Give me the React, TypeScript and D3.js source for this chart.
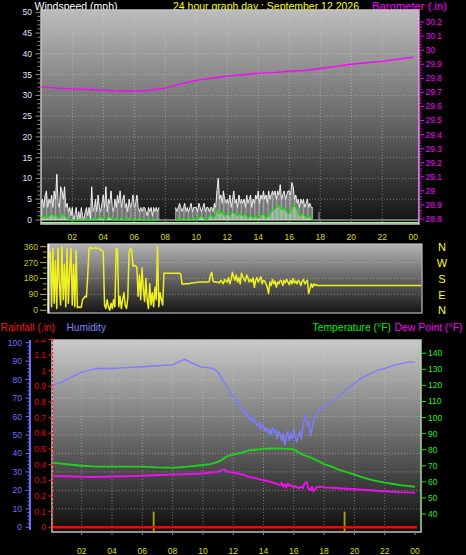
import React from "react";
import * as d3 from "d3";

const N = null;
const W = 466;
const H = 555;

// ---------- shared time axis ----------
const hourTicks = [2, 4, 6, 8, 10, 12, 14, 16, 18, 20, 22, 24];
const hourLabels = ["02", "04", "06", "08", "10", "12", "14", "16", "18", "20", "22", "00"];

// ---------- top panel: wind & barometer ----------
const windTicks = [0, 5, 10, 15, 20, 25, 30, 35, 40, 45, 50];
const baroTicks = [28.8, 28.9, 29, 29.1, 29.2, 29.3, 29.4, 29.5, 29.6, 29.7, 29.8, 29.9, 30, 30.1, 30.2];

// gust speed, one value every 5 minutes from 00:00
const gustMph: (number | null)[] = [
  4, 5, 3, 6, 7, 3, 5, 4, 6, 3, 7, 5,
  11, 4, 3, 8, 7, 5, 8, 3, 4, 2, 3, 1,
  3, 0, 1, 3, 0, 2, 0, 3, 1, 0, 2, 3,
  1, 3, 0, 8, 2, 3, 5, 2, 6, 3, 2, 4,
  6, 3, 8, 2, 5, 4, 7, 3, 2, 5, 3, 6,
  4, 7, 3, 5, 6, 3, 4, 2, 5, 3, 4, 6,
  3, 4, 6, 3, 2, 3, 2, 3, 3, 2, 1, 3,
  2, 3, 1, 3, 2, 3, 2, 3, N, N, N, N,
  N, N, N, N, N, N, N, N, 3, 2, 3, 4,
  3, 2, 3, 4, 2, 3, 2, 3, 4, 2, 3, 3,
  3, 2, 4, 3, 2, 3, 4, 2, 3, 3, 2, 3,
  3, 2, 4, 3, 7, 10, 5, 6, 4, 7, 5, 4,
  5, 4, 6, 3, 5, 7, 4, 5, 3, 6, 4, 5,
  4, 5, 3, 6, 4, 5, 6, 3, 5, 4, 6, 5,
  7, 4, 6, 5, 7, 5, 6, 4, 7, 5, 6, 7,
  6, 7, 5, 7, 6, 8.5, 5, 6, 7, 5, 6, 7,
  7, 6, 9, 8, 5, 6, 4, 5, 3, 5, 4, 5,
  3, 4, 5, 3, 4, 3, 3, N, N, N, N, 2,
];

// average speed, one value every 10 minutes from 00:00
const avgMph: (number | null)[] = [
  0.5, 1, 0.5, 1, 1.5, 1,
  1, 0.5, 1.5, 1, 0.5, 0,
  0, 0, 0, 0, 0, 0,
  0, 0, 0.5, 0, 0.5, 0.5,
  0.5, 0, 1, 0.5, 0, 0.5,
  0, 0.5, 0, 0, 0.5, 0,
  0, 0, 0.5, 0, 0, 0,
  0, 0, 0, 0, N, N,
  N, N, N, N, 0, 0,
  0, 0.5, 0, 0.5, 0, 0.5,
  0, 0.5, 1, 0.5, 0, 1,
  1, 0.5, 2.5, 1.5, 2, 1,
  1.5, 1, 2, 1.5, 1, 1.5,
  1, 1.5, 0.5, 1, 0.5, 1,
  0.5, 1, 1.5, 0.5, 1, 2,
  2.5, 3, 3.5, 2.5, 3, 2,
  1.5, 3, 3.5, 2.5, 1, 1.5,
  1, 0.5, 1, 0,
];

const baroHours = [0, 1, 2, 3, 4, 5, 6, 7, 8, 9, 10, 11, 12, 13, 14, 15, 16, 17, 18, 19, 20, 21, 22, 23, 24];
const baroInHg = [
  29.74, 29.73, 29.725, 29.72, 29.715, 29.71, 29.71, 29.715, 29.73, 29.76, 29.785, 29.8, 29.815,
  29.825, 29.835, 29.84, 29.85, 29.855, 29.87, 29.885, 29.9, 29.91, 29.92, 29.935, 29.95,
];

// ---------- middle panel: wind direction ----------
const dirTicks = [0, 90, 180, 270, 360];
const dirLetters = ["N", "E", "S", "W", "N"];
// one value every 5 minutes from 00:00
const dirDeg: number[] = [
  300, 330, 20, 350, 40, 280, 10, 350, 150, 30, 360, 60,
  260, 20, 350, 40, 220, 350, 30, 260, 20, 340, 15, 20,
  15, 20, 60, 70, 80, 75, 200, 350, 355, 350, 352, 350,
  355, 350, 352, 350, 340, 340, 330, 30, 10, 60, 20, 0,
  40, 10, 60, 20, 350, 345, 20, 80, 10, 60, 100, 30,
  10, 70, 330, 350, 340, 250, 255, 250, 245, 80, 200, 60,
  240, 120, 50, 180, 60, 10, 150, 30, 100, 20, 130, 60,
  360, 20, 100, 60, 30, 210, 210, 210, 210, 210, 210, 210,
  210, 210, 210, 210, 210, 210, 205, 150, 148, 150, 150, 152,
  150, 152, 155, 155, 155, 158, 158, 158, 160, 160, 160, 160,
  160, 160, 160, 160, 162, 200, 215, 165, 160, 162, 158, 160,
  155, 170, 160, 150, 175, 165, 160, 185, 150, 175, 215, 190,
  170, 200, 160, 185, 150, 210, 190, 175, 165, 200, 185, 160,
  175, 160, 185, 130, 170, 185, 160, 175, 190, 150, 170, 165,
  150, 130, 95, 160, 140, 175, 150, 165, 130, 160, 150, 170,
  165, 140, 170, 155, 175, 160, 145, 170, 150, 180, 155, 165,
  150, 170, 160, 140, 165, 175, 150, 160, 170, 95, 120, 150,
  130, 150, 140, 145, 140, 140, 140, 140, 140, 140, 140, 140,
  140, 140, 140, 140, 140, 140, 140, 140, 140, 140, 140, 140,
  140, 140, 140, 140, 140, 140, 140, 140, 140, 140, 140, 140,
  140, 140, 140, 140, 140, 140, 140, 140, 140, 140, 140, 140,
  140, 140, 140, 140, 140, 140, 140, 140, 140, 140, 140, 140,
  140, 140, 140, 140, 140, 140, 140, 140, 140, 140, 140, 140,
  140, 140, 140, 140, 140, 140, 140, 140, 140, 140, 140, 140,
  140,
];

// ---------- bottom panel: rain, humidity, temperature, dew point ----------
const humTicks = [0, 10, 20, 30, 40, 50, 60, 70, 80, 90, 100];
const rainTicks = [0, 0.1, 0.2, 0.3, 0.4, 0.5, 0.6, 0.7, 0.8, 0.9, 1, 1.1, 1.2];
const tempTicks = [40, 50, 60, 70, 80, 90, 100, 110, 120, 130, 140];

const humHours = [
  0, 0.5, 1, 1.5, 2, 2.5, 3, 4, 5, 6, 7, 8, 8.5, 8.8, 9.3, 9.8, 10.3, 10.7, 11, 11.3,
  11.6, 11.8, 12, 12.1, 12.2, 12.3, 12.4, 12.5, 12.6, 12.7, 12.8, 12.9, 13, 13.1, 13.2, 13.3, 13.4, 13.5,
  13.6, 13.7, 13.8, 13.9, 14, 14.1, 14.2, 14.3, 14.4, 14.5, 14.6, 14.7, 14.8, 14.9, 15, 15.1, 15.2, 15.3,
  15.4, 15.5, 15.6, 15.7, 15.8, 15.9, 16, 16.1, 16.2, 16.3, 16.4, 16.5, 16.6, 16.7, 16.8, 16.9, 17, 17.1,
  17.2, 17.3, 17.4, 17.5, 17.6, 17.7, 17.8, 17.9, 18, 18.5, 19, 19.5, 20, 20.5, 21, 21.5, 22, 22.5, 23, 23.5, 24,
];
const humPct = [
  77, 78, 80, 82, 84, 85, 86, 86, 86.5, 87, 87.5, 88, 90, 91, 89, 87, 86.5, 86, 84, 80,
  76, 73, 71, 70, 68, 69, 66, 64, 65, 62, 63, 60, 61, 58, 60, 57, 59, 56,
  55, 57, 53, 56, 55, 52, 54, 51, 53, 50, 54, 51, 53, 48, 52, 50, 47, 51,
  44.5, 49, 52, 47, 51, 48, 53, 49, 46, 50, 52, 48, 55, 59, 61, 55, 57, 50,
  53, 58, 60, 61, 62, 64, 63, 66, 66, 68, 71, 75, 78, 81, 83, 85, 86, 87.5, 88.5, 89.5, 89.5,
];

const tempHours = [0, 0.5, 1, 2, 3, 4, 5, 6, 7, 8, 9, 10, 10.5, 11, 11.3, 11.6, 12, 12.5, 13, 13.5, 14, 14.5, 15, 15.5, 16, 16.3, 16.6, 17, 17.5, 18, 18.5, 19, 19.5, 20, 20.5, 21, 21.5, 22, 22.5, 23, 23.5, 24];
const tempF = [72, 71.5, 71, 70, 69.5, 69.5, 69.5, 69.5, 69, 68.8, 69.5, 70.5, 71, 72.5, 74, 76, 77, 78, 79.5, 80, 80.5, 80.8, 80.8, 80.5, 80.3, 78.5, 77, 75.5, 73.5, 71, 69.5, 67.5, 66, 64.5, 63, 61.5, 60.5, 59.5, 58.8, 58, 57.5, 57];

const dewHours = [
  0, 1, 2, 3, 4, 5, 6, 7, 8, 9, 10, 10.5, 11, 11.4, 11.6, 11.8, 12.2, 12.7, 13.1, 13.5, 14, 14.4, 14.8,
  15.1, 15.2, 15.3, 15.4, 15.5, 15.6, 15.7, 15.8, 16, 16.1, 16.3, 16.5, 16.6, 16.7, 16.85, 16.95, 17.1,
  17.2, 17.3, 17.5, 17.7, 18, 18.5, 19, 20, 21, 22, 23, 24,
];
const dewF = [
  63.6, 63.5, 63.2, 63, 63.3, 63.5, 63.8, 64.3, 64.6, 64.8, 65.2, 65.8, 66.3, 67.8, 66.5, 66, 65.5, 64.3, 63, 62.2, 61, 60.1, 59,
  58, 59.5, 57, 58.5, 56.5, 59, 57.5, 58, 56.5, 57.5, 56, 57, 56, 59, 60, 56, 55,
  57, 54, 56.5, 57, 56.6, 56.3, 56, 55.4, 54.8, 54.2, 53.6, 53.3,
];

const rainHours = [6.75, 19.35];
const rainIn = [0.1, 0.1];

const FONT = "'Liberation Sans', Arial, sans-serif";
const GRID = { stroke: "#d8d8d8", strokeOpacity: 0.45, strokeDasharray: "1 2", strokeWidth: 1 };

function range(a: number, b: number, s: number) {
  const out: number[] = [];
  for (let v = a; v <= b + 1e-9; v += s) out.push(+v.toFixed(4));
  return out;
}

export default function App() {
  // scales
  const xTop = d3.scaleLinear().domain([0, 24]).range([41.3, 413.3]);
  const yWind = d3.scaleLinear().domain([0, 50]).range([220, 12.3]);
  const yBaro = d3.scaleLinear().domain([28.8, 30.2]).range([219, 22]);

  const xDir = d3.scaleLinear().domain([0, 24]).range([49, 421]);
  const yDir = d3.scaleLinear().domain([0, 360]).range([310.3, 246.7]);

  const xBot = d3.scaleLinear().domain([0, 24]).range([51.4, 415]);
  const yHum = d3.scaleLinear().domain([0, 100]).range([527.3, 342.7]);
  const yRain = d3.scaleLinear().domain([0, 1.2]).range([527.3, 339.4]);
  const yTemp = d3.scaleLinear().domain([40, 140]).range([514, 353.3]);

  // series
  const gustPts = gustMph.map((v, i) => ({ h: (i * 5) / 60, v }));
  const avgPts = avgMph.map((v, i) => ({ h: (i * 10) / 60, v }));
  const gustLine = d3
    .line<{ h: number; v: number | null }>()
    .defined((d) => d.v !== null)
    .x((d) => xTop(d.h))
    .y((d) => yWind(d.v as number));
  const avgArea = d3
    .area<{ h: number; v: number | null }>()
    .defined((d) => d.v !== null)
    .x((d) => xTop(d.h))
    .y0(yWind(0))
    .y1((d) => yWind(d.v as number));
  const avgLine = d3
    .line<{ h: number; v: number | null }>()
    .defined((d) => d.v !== null)
    .x((d) => xTop(d.h))
    .y((d) => yWind(d.v as number));
  const baroLine = d3
    .line<number>()
    .x((_, i) => xTop(baroHours[i]))
    .y((d) => yBaro(d));

  const dirLine = d3
    .line<number>()
    .x((_, i) => xDir((i * 5) / 60))
    .y((d) => yDir(d));

  const humLine = d3.line<number>().x((_, i) => xBot(humHours[i])).y((d) => yHum(d));
  const tempLine = d3.line<number>().x((_, i) => xBot(tempHours[i])).y((d) => yTemp(d));
  const dewLine = d3.line<number>().x((_, i) => xBot(dewHours[i])).y((d) => yTemp(d));

  const tickText = { fontSize: 8.5, fontFamily: FONT };

  return (
    <svg
      width={W}
      height={H}
      viewBox={`0 0 ${W} ${H}`}
      style={{ position: "fixed", left: 0, top: 0, background: "#000", display: "block" }}
      fontFamily={FONT}
    >
      <defs>
        <linearGradient id="gTop" x1="0" y1="0" x2="0" y2="1">
          <stop offset="0" stopColor="#bcbcbc" />
          <stop offset="0.5" stopColor="#6a6a6a" />
          <stop offset="1" stopColor="#121212" />
        </linearGradient>
        <linearGradient id="gDir" x1="0" y1="0" x2="0" y2="1">
          <stop offset="0" stopColor="#b4b4b4" />
          <stop offset="1" stopColor="#151515" />
        </linearGradient>
        <linearGradient id="gBot" x1="0" y1="0" x2="0" y2="1">
          <stop offset="0" stopColor="#cacaca" />
          <stop offset="0.5" stopColor="#6c6c6c" />
          <stop offset="1" stopColor="#0c0c0c" />
        </linearGradient>
        <clipPath id="cTop">
          <rect x={41} y={10} width={378} height={214} />
        </clipPath>
        <clipPath id="cDir">
          <rect x={48} y={244} width={374} height={69} />
        </clipPath>
        <clipPath id="cBot">
          <rect x={52} y={340} width={369} height={192} />
        </clipPath>
        <clipPath id="cRainLbl">
          <rect x={0} y={339.5} width={52} height={200} />
        </clipPath>
      </defs>
      <rect x={0} y={0} width={W} height={H} fill="#000" />

      {/* ================= TOP PANEL ================= */}
      <text x={34.5} y={10} fill="#ffffff" fontSize={11} textLength={83} lengthAdjust="spacingAndGlyphs">
        Windspeed (mph)
      </text>
      <text x={173} y={10} fill="#ffff00" fontSize={11} textLength={186} lengthAdjust="spacingAndGlyphs">
        24 hour graph day : September 12 2026
      </text>
      <text x={372} y={10} fill="#ff00ff" fontSize={11} textLength={75} lengthAdjust="spacingAndGlyphs">
        Barometer (.in)
      </text>

      <rect x={41} y={10} width={378} height={214} fill="url(#gTop)" stroke="#c4c4c4" strokeWidth={1.5} />
      <g>
        {windTicks.slice(1, -1).map((t) => (
          <line key={"wg" + t} x1={42} x2={418} y1={yWind(t)} y2={yWind(t)} {...GRID} />
        ))}
        {hourTicks.slice(0, -1).map((h) => (
          <line key={"wv" + h} x1={xTop(h)} x2={xTop(h)} y1={11} y2={223} {...GRID} />
        ))}
      </g>
      <g clipPath="url(#cTop)">
        <line x1={41} x2={419} y1={yWind(0)} y2={yWind(0)} stroke="#d0d0d0" strokeWidth={1.2} />
        <line x1={41} x2={419} y1={222.8} y2={222.8} stroke="#a8f0a8" strokeWidth={1.6} />
        {gustPts.map((d, i) =>
          d.v === null ? null : (
            <rect
              key={"gb" + i}
              x={xTop(d.h) - 0.5}
              y={yWind(d.v)}
              width={1}
              height={yWind(0) - yWind(d.v)}
              fill="#ffffff"
              fillOpacity={0.6}
            />
          )
        )}
        <path d={avgArea(avgPts) || ""} fill="#b8f5b8" fillOpacity={0.45} />
        <path d={gustLine(gustPts) || ""} fill="none" stroke="#f8f8f8" strokeWidth={0.9} />
        <path d={avgLine(avgPts) || ""} fill="none" stroke="#19d419" strokeWidth={1.3} />
        <path d={baroLine(baroInHg) || ""} fill="none" stroke="#ff00ff" strokeWidth={1.4} />
      </g>

      {/* wind axis */}
      {range(0, 50, 1).map((t) => (
        <line
          key={"wt" + t}
          x1={t % 5 === 0 ? 35.5 : 37.5}
          x2={40.5}
          y1={yWind(t)}
          y2={yWind(t)}
          stroke="#8c8c8c"
          strokeWidth={1}
        />
      ))}
      {windTicks.map((t) => (
        <text key={"wl" + t} x={32} y={yWind(t)} dy="0.35em" textAnchor="end" fill="#dfe6ff" {...tickText}>
          {t}
        </text>
      ))}

      {/* barometer axis */}
      <line x1={419.5} x2={419.5} y1={10} y2={224} stroke="#ff00ff" strokeWidth={1} strokeDasharray="1 1" />
      {range(28.8, 30.2, 0.02).map((t, i) => (
        <line
          key={"bt" + t}
          x1={419.5}
          x2={i % 5 === 0 ? 424 : 421.5}
          y1={yBaro(t)}
          y2={yBaro(t)}
          stroke="#ff00ff"
          strokeWidth={1}
        />
      ))}
      {baroTicks.map((t) => (
        <text key={"bl" + t} x={425.5} y={yBaro(t)} dy="0.35em" fill="#ff00ff" {...tickText}>
          {String(t)}
        </text>
      ))}

      {hourTicks.map((h, i) => (
        <text key={"xt" + h} x={xTop(h)} y={240} textAnchor="middle" fill="#dede00" {...tickText}>
          {hourLabels[i]}
        </text>
      ))}

      {/* ================= DIRECTION PANEL ================= */}
      <rect x={48} y={244} width={374} height={69} fill="url(#gDir)" stroke="#bdbdbd" strokeWidth={1.2} />
      <line x1={48.5} x2={48.5} y1={244} y2={313} stroke="#eeeeee" strokeWidth={2} />
      {dirTicks.slice(1, -1).map((t) => (
        <line key={"dg" + t} x1={49} x2={421} y1={yDir(t)} y2={yDir(t)} {...GRID} />
      ))}
      <g clipPath="url(#cDir)">
        <path d={dirLine(dirDeg) || ""} fill="none" stroke="#f0f020" strokeWidth={1.5} strokeLinejoin="round" />
      </g>
      {range(0, 360, 30).map((t) => (
        <line
          key={"dt" + t}
          x1={t % 90 === 0 ? 40 : 43}
          x2={46.5}
          y1={yDir(t)}
          y2={yDir(t)}
          stroke="#b8b800"
          strokeWidth={1}
        />
      ))}
      {dirTicks.map((t) => (
        <text key={"dl" + t} x={38} y={yDir(t)} dy="0.35em" textAnchor="end" fill="#cccc00" {...tickText}>
          {t}
        </text>
      ))}
      {dirTicks.map((t, i) => (
        <text key={"dn" + t} x={442} y={yDir(t)} dy="0.38em" textAnchor="middle" fill="#ffff00" fontSize={11}>
          {dirLetters[i]}
        </text>
      ))}

      {/* ================= BOTTOM PANEL ================= */}
      <text x={0.5} y={331} fill="#ff1010" fontSize={11} textLength={54.5} lengthAdjust="spacingAndGlyphs">
        Rainfall (.in)
      </text>
      <text x={66.5} y={331} fill="#8080ff" fontSize={11} textLength={39.5} lengthAdjust="spacingAndGlyphs">
        Humidity
      </text>
      <text x={312.5} y={331} fill="#00ee00" fontSize={11} textLength={78.5} lengthAdjust="spacingAndGlyphs">
        Temperature (°F)
      </text>
      <text x={394.5} y={331} fill="#ff00ff" fontSize={11} textLength={68} lengthAdjust="spacingAndGlyphs">
        Dew Point (°F)
      </text>

      <rect x={52} y={340} width={369} height={192} fill="url(#gBot)" stroke="#c4c4c4" strokeWidth={1.5} />
      {humTicks.slice(1, -1).map((t) => (
        <line key={"hg" + t} x1={53} x2={420} y1={yHum(t)} y2={yHum(t)} {...GRID} />
      ))}
      {hourTicks.slice(0, -1).map((h) => (
        <line key={"bv" + h} x1={xBot(h)} x2={xBot(h)} y1={341} y2={531} {...GRID} />
      ))}
      {hourTicks.map((h) => (
        <line key={"bx" + h} x1={xBot(h)} x2={xBot(h)} y1={532} y2={535} stroke="#888" strokeWidth={1} />
      ))}
      <g clipPath="url(#cBot)">
        {rainHours.map((h, i) => (
          <line
            key={"rb" + i}
            x1={xBot(h)}
            x2={xBot(h)}
            y1={yRain(rainIn[i])}
            y2={531}
            stroke="#a8a800"
            strokeWidth={1.8}
          />
        ))}
        <path d={humLine(humPct) || ""} fill="none" stroke="#7c7cff" strokeWidth={1.4} strokeLinejoin="round" />
        <path d={tempLine(tempF) || ""} fill="none" stroke="#1ed21e" strokeWidth={1.9} />
        <path d={dewLine(dewF) || ""} fill="none" stroke="#ee10ee" strokeWidth={1.9} strokeLinejoin="round" />
        <line x1={53} x2={417} y1={yRain(0)} y2={yRain(0)} stroke="#ff0000" strokeWidth={2.4} />
      </g>

      {/* humidity axis */}
      <line x1={30} x2={30} y1={340} y2={530} stroke="#6e6eff" strokeWidth={2} />
      {range(0, 100, 2).map((t) => (
        <line
          key={"ht" + t}
          x1={t % 10 === 0 ? 25.5 : 27.5}
          x2={30}
          y1={yHum(t)}
          y2={yHum(t)}
          stroke="#6e6eff"
          strokeWidth={1}
        />
      ))}
      {humTicks.map((t) => (
        <text key={"hl" + t} x={22} y={yHum(t)} dy="0.35em" textAnchor="end" fill="#6e6eff" {...tickText}>
          {t}
        </text>
      ))}

      {/* rain axis */}
      <line x1={52.5} x2={52.5} y1={340} y2={531} stroke="#ff2020" strokeWidth={1.2} strokeDasharray="2 2" />
      {rainTicks.map((t) => (
        <line key={"rt" + t} x1={48.5} x2={52.5} y1={yRain(t)} y2={yRain(t)} stroke="#ff2020" strokeWidth={1} />
      ))}
      <g clipPath="url(#cRainLbl)">
        {rainTicks.map((t) => (
          <text key={"rl" + t} x={46} y={yRain(t)} dy="0.35em" textAnchor="end" fill="#e80000" {...tickText}>
            {String(t)}
          </text>
        ))}
      </g>

      {/* temperature axis */}
      <line x1={421.5} x2={421.5} y1={340} y2={532} stroke="#22dd22" strokeWidth={1.2} strokeDasharray="1 2" />
      {range(40, 140, 10).map((t) => (
        <line key={"tt" + t} x1={421.5} x2={426} y1={yTemp(t)} y2={yTemp(t)} stroke="#22dd22" strokeWidth={1} />
      ))}
      {tempTicks.map((t) => (
        <text key={"tl" + t} x={428} y={yTemp(t)} dy="0.35em" fill="#22ee22" {...tickText}>
          {t}
        </text>
      ))}

      {hourTicks.map((h, i) => (
        <text key={"bt" + h} x={xBot(h)} y={554} textAnchor="middle" fill="#dede00" {...tickText}>
          {hourLabels[i]}
        </text>
      ))}
    </svg>
  );
}
